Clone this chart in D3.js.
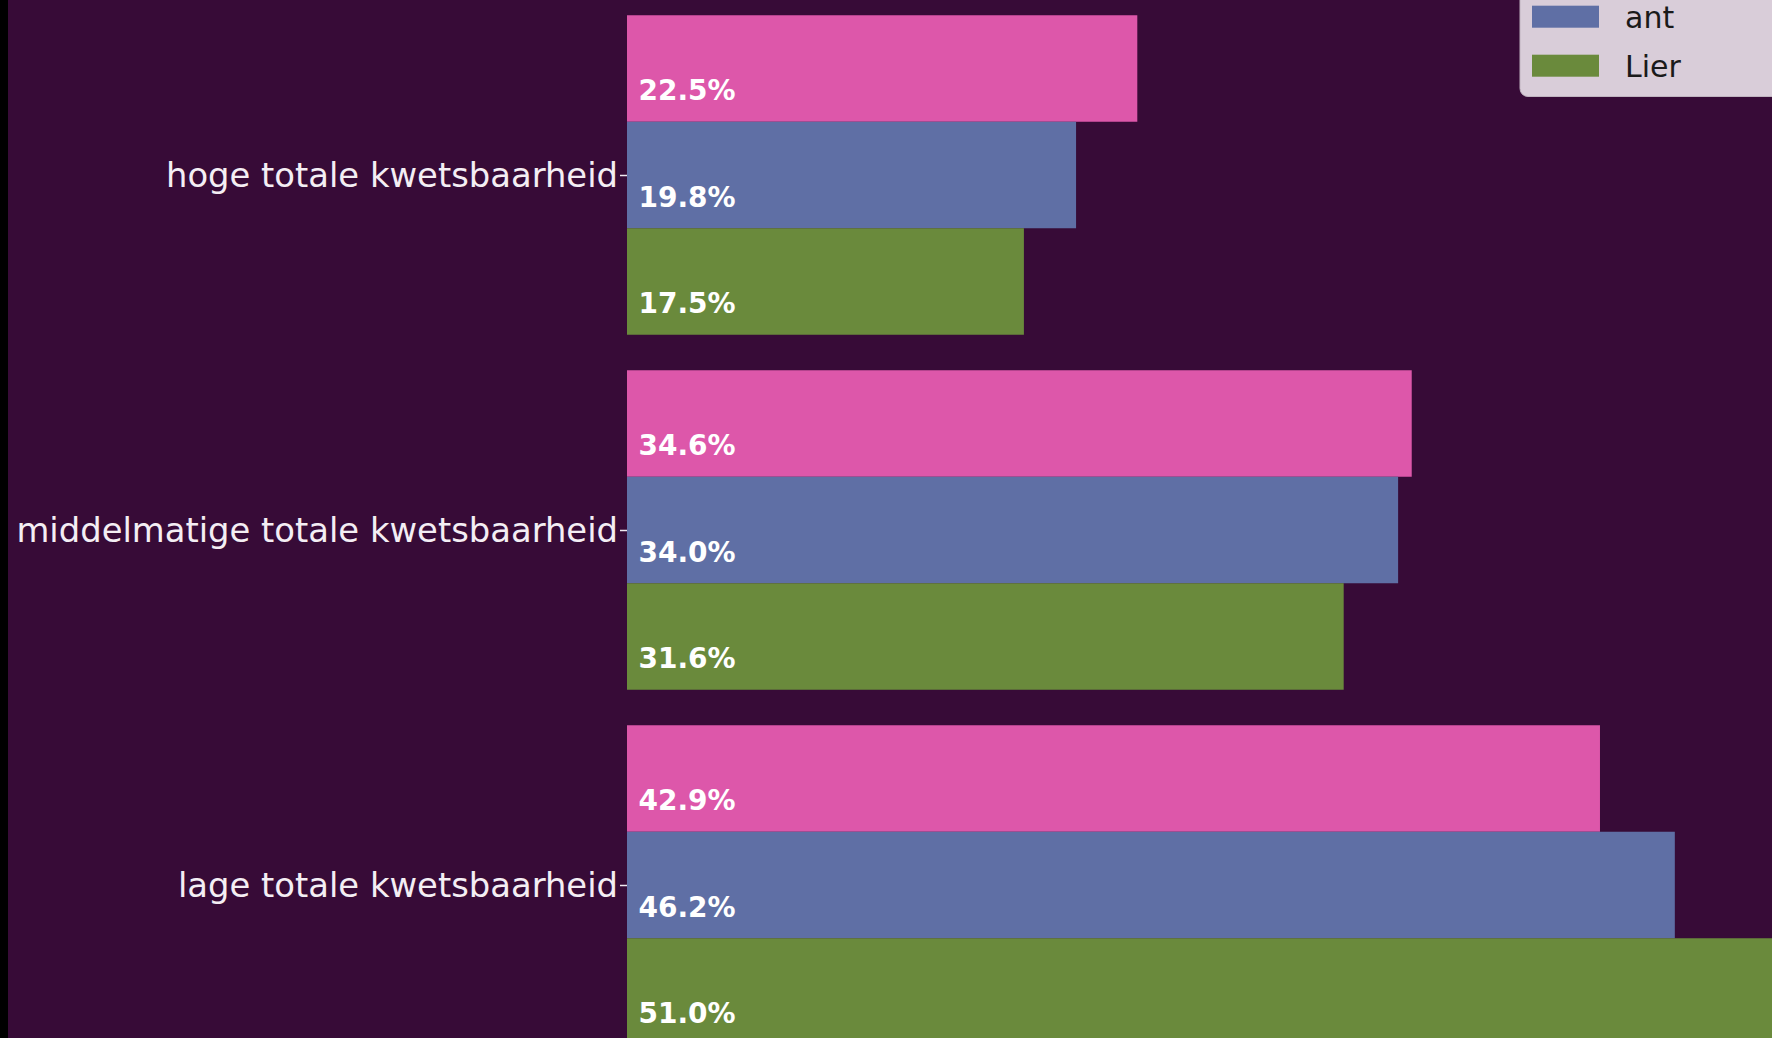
<!DOCTYPE html>
<html>
<head>
<meta charset="utf-8">
<script src="https://cdn.jsdelivr.net/npm/d3@7"></script>
<style>
  html, body { margin: 0; padding: 0; background: #370b37; overflow: hidden; }
  svg { display: block; }
</style>
</head>
<body>
<svg id="chart" width="1772" height="1038"></svg>
<script>
// ---- data ----
const categories = ["hoge totale kwetsbaarheid", "middelmatige totale kwetsbaarheid", "lage totale kwetsbaarheid"];
const seriesNames = ["Vlaanderen", "ant", "Lier"];
const seriesColors = ["#dd57aa", "#5f6fa5", "#6a8a3c"];
const valuesVlaanderen = [22.5, 34.6, 42.9];
const valuesAnt = [19.8, 34.0, 46.2];
const valuesLier = [17.5, 31.6, 51.0];
const seriesValues = [valuesVlaanderen, valuesAnt, valuesLier];

// ---- layout ----
const W = 1772, H = 1038;
const svg = d3.select("#chart");
svg.append("rect").attr("x", 0).attr("y", 0).attr("width", W).attr("height", H).attr("fill", "#370b37");
svg.append("rect").attr("x", 0).attr("y", 0).attr("width", 8).attr("height", H).attr("fill", "#000000");

const x0 = 627;
const x = d3.scaleLinear().domain([0, 100]).range([x0, x0 + 2268]);
const groupStep = 355;
const yCenter = d3.scalePoint().domain(categories).range([175, 175 + 2 * groupStep]);
const inner = d3.scaleBand().domain(seriesNames).range([-0.45 * groupStep, 0.45 * groupStep]);

const g = svg.append("g");

// bars
seriesNames.forEach((s, si) => {
  const vals = seriesValues[si];
  categories.forEach((c, ci) => {
    const top = yCenter(c) + inner(s);
    g.append("rect")
      .attr("x", x(0))
      .attr("y", top)
      .attr("width", x(vals[ci]) - x(0))
      .attr("height", inner.bandwidth())
      .attr("fill", seriesColors[si]);
    g.append("text")
      .attr("x", x(0) + 11.5)
      .attr("y", top + inner.bandwidth() * 0.8)
      .attr("fill", "#ffffff")
      .attr("font-family", "DejaVu Sans")
      .attr("font-weight", "bold")
      .attr("font-size", 28)
      .text(vals[ci].toFixed(1) + "%");
  });
});

// y axis
const yAxis = d3.axisLeft(yCenter).tickSize(7).tickPadding(2);
const ax = svg.append("g").attr("transform", `translate(${x0},0)`).call(yAxis);
ax.select(".domain").remove();
ax.selectAll(".tick line").attr("stroke", "#f0eaf0").attr("stroke-width", 1.5);
ax.selectAll(".tick text")
  .attr("fill", "#f4eef4")
  .attr("font-family", "DejaVu Sans")
  .attr("font-size", 33.8)
  .attr("dy", "0.34em");

// legend (the first entry lies above the visible area in the reference)
const lg = svg.append("g");
lg.append("rect")
  .attr("x", 1520).attr("y", -120)
  .attr("width", 300).attr("height", 216.5)
  .attr("rx", 8).attr("ry", 8)
  .attr("fill", "#d9cdd9")
  .attr("stroke", "#bfb3bf").attr("stroke-width", 1);
const rowStep = 49;
seriesNames.forEach((s, si) => {
  const top = 5.7 + (si - 1) * rowStep;
  if (top < 0) return;
  lg.append("rect")
    .attr("x", 1532).attr("y", top)
    .attr("width", 67).attr("height", 22)
    .attr("fill", seriesColors[si]);
  lg.append("text")
    .attr("x", 1625).attr("y", top + 22.5)
    .attr("fill", "#1a1a1a")
    .attr("font-family", "DejaVu Sans")
    .attr("font-size", 30)
    .text(s);
});
</script>
</body>
</html>
